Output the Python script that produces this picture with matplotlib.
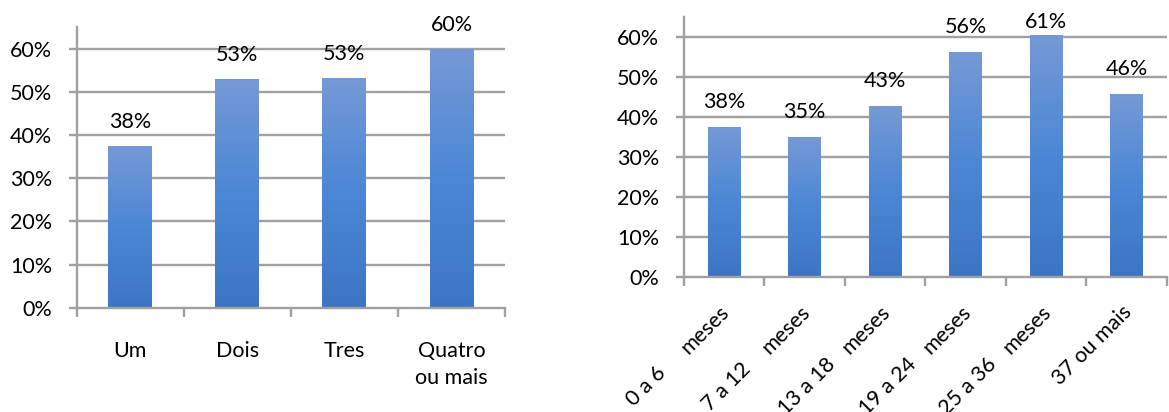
import matplotlib
matplotlib.use("Agg")
import matplotlib.pyplot as plt
import matplotlib.transforms as mtransforms
from matplotlib.colors import LinearSegmentedColormap
import numpy as np

plt.rcParams['font.family'] = ['Lato', 'DejaVu Sans']

# ---- data ----
left_categories = ["Um", "Dois", "Tres", "Quatro\nou mais"]
left_values = [0.375, 0.530, 0.533, 0.600]
left_labels = ["38%", "53%", "53%", "60%"]

right_categories = ["0 a 6 meses", "7 a 12 meses", "13 a 18 meses",
                    "19 a 24 meses", "25 a 36 meses", "37 ou mais"]
right_values = [0.375, 0.350, 0.428, 0.563, 0.606, 0.458]
right_labels = ["38%", "35%", "43%", "56%", "61%", "46%"]

yticks = [0.0, 0.1, 0.2, 0.3, 0.4, 0.5, 0.6]
ytick_labels = ["0%", "10%", "20%", "30%", "40%", "50%", "60%"]

# ---- style ----
W, H, DPI = 1169, 412, 100
FS = 15.5
GRID = '#a0a0a0'
cmap = LinearSegmentedColormap.from_list(
    'bar', [(0.0, '#3d75c5'), (0.5, '#4b87d6'), (1.0, '#7599d5')])

fig = plt.figure(figsize=(W / DPI, H / DPI), dpi=DPI)
fig.patch.set_facecolor('white')


def px(x, y):
    return mtransforms.ScaledTranslation(x / DPI, -y / DPI, fig.dpi_scale_trans)


def style_axes(ax, n):
    ax.set_xlim(0, n)
    ax.set_ylim(0, 0.65)
    for s in ['top', 'right']:
        ax.spines[s].set_visible(False)
    for s in ['left', 'bottom']:
        ax.spines[s].set_color(GRID)
        ax.spines[s].set_linewidth(1.7)
    ax.set_yticks(yticks)
    ax.set_yticklabels(ytick_labels, fontsize=FS)
    ax.tick_params(axis='y', length=8 * 0.72, width=1.7, color=GRID, pad=12)
    for y in yticks[1:]:
        ax.axhline(y, color=GRID, lw=1.7, zorder=1)
    ax.set_xticks(np.arange(n + 1))
    ax.set_xticklabels([])
    ax.tick_params(axis='x', which='major', length=9 * 0.72, width=1.7, color=GRID)


def gradient_bars(ax, values):
    x = np.arange(len(values)) + 0.5
    bars = ax.bar(x, values, width=0.41, color='none', edgecolor='none', zorder=2)
    grad = np.linspace(0, 1, 256).reshape(-1, 1)
    for b in bars:
        x0, w, h = b.get_x(), b.get_width(), b.get_height()
        im = ax.imshow(grad, cmap=cmap, origin='lower', aspect='auto',
                       extent=(x0, x0 + w, 0, h), zorder=2)
        im.set_clip_path(b)
    ax.set_xlim(0, len(values))
    ax.set_ylim(0, 0.65)
    return x


# ---- left chart ----
axL = fig.add_axes([76.7 / W, 1 - 307.7 / H, (505 - 76.7) / W, (307.7 - 27.1) / H])
style_axes(axL, len(left_values))
xl = gradient_bars(axL, left_values)
axL.set_xticks(xl, minor=True)
axL.set_xticklabels(left_categories, minor=True, fontsize=FS, linespacing=1.45)
axL.tick_params(axis='x', which='minor', length=0, pad=24)
for x, v, t in zip(xl, left_values, left_labels):
    axL.text(x, v + 0.0556, t, ha='center', va='center', fontsize=FS, zorder=3)

# ---- right chart ----
axR = fig.add_axes([684 / W, 1 - 276.7 / H, (1166.7 - 684) / W, (276.7 - 17.35) / H])
style_axes(axR, len(right_values))
xr = gradient_bars(axR, right_values)
for x, v, t in zip(xr, right_values, right_labels):
    axR.text(x, min(v + 0.0619, 0.639), t, ha='center', va='center',
             fontsize=FS, zorder=3, clip_on=False)

base = axR.get_xaxis_transform()
for x, lab in zip(xr, right_categories):
    if lab.endswith(" meses"):
        first = lab[:-len(" meses")]
        axR.text(x, 0, "meses", rotation=45, rotation_mode='anchor',
                 ha='right', va='center', fontsize=FS,
                 transform=base + px(2, 32))
        axR.text(x, 0, first, rotation=45, rotation_mode='anchor',
                 ha='center', va='center', fontsize=FS,
                 transform=base + px(-78, 110))
    else:
        axR.text(x, 0, lab, rotation=45, rotation_mode='anchor',
                 ha='right', va='center', fontsize=FS,
                 transform=base + px(2, 32))

fig.savefig("out.png", dpi=DPI, facecolor='white')
